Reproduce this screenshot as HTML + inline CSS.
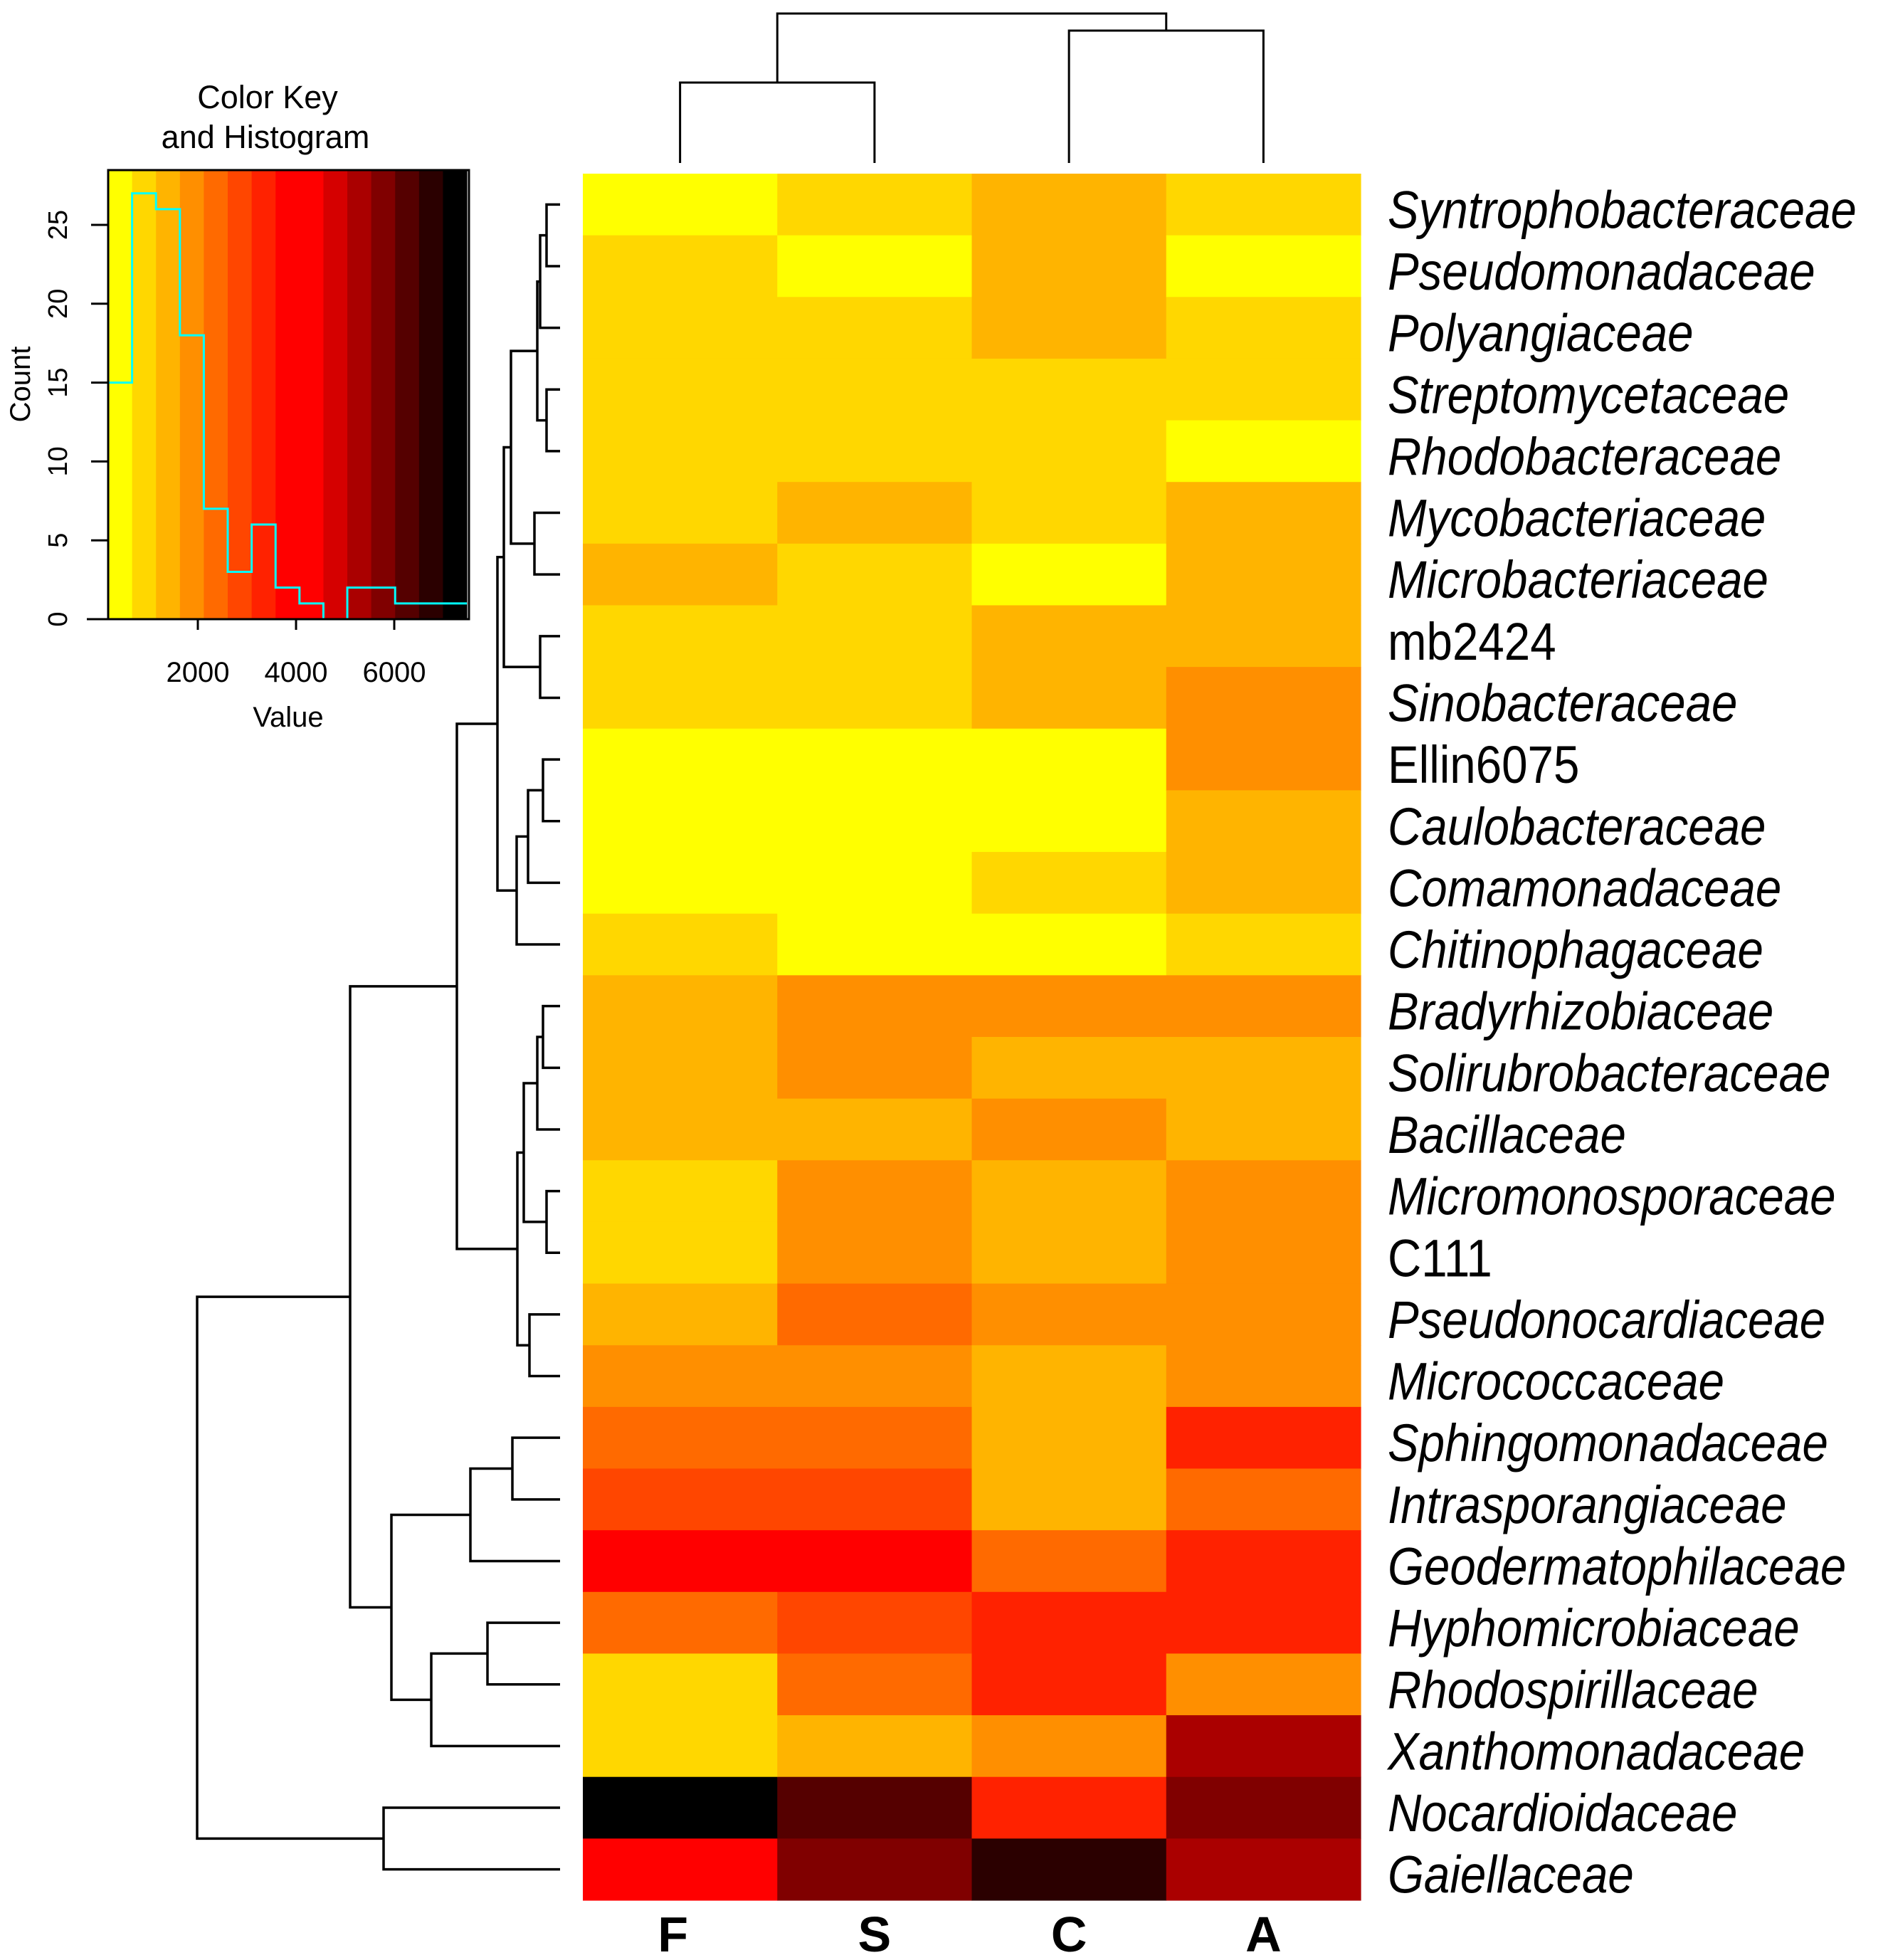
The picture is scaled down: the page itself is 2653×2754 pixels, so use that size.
<!DOCTYPE html>
<html><head><meta charset="utf-8"><style>
html,body{margin:0;padding:0;background:#fff;}
svg{display:block;}
text{font-family:"Liberation Sans",Arial,sans-serif;}
</style></head><body>
<svg id="chart" width="2653" height="2754" viewBox="0 0 2653 2754" xmlns="http://www.w3.org/2000/svg">
<g id="key"></g>
<g id="coldendro"></g>
<g id="rowdendro"></g>
<g id="cells"></g>
<g id="labels"></g>
</svg>
<script>
var rowNames=["Syntrophobacteraceae","Pseudomonadaceae","Polyangiaceae","Streptomycetaceae","Rhodobacteraceae","Mycobacteriaceae","Microbacteriaceae","mb2424","Sinobacteraceae","Ellin6075","Caulobacteraceae","Comamonadaceae","Chitinophagaceae","Bradyrhizobiaceae","Solirubrobacteraceae","Bacillaceae","Micromonosporaceae","C111","Pseudonocardiaceae","Micrococcaceae","Sphingomonadaceae","Intrasporangiaceae","Geodermatophilaceae","Hyphomicrobiaceae","Rhodospirillaceae","Xanthomonadaceae","Nocardioidaceae","Gaiellaceae"];
var colNames=["F","S","C","A"];
var valF=[418,905,905,905,905,905,1392,905,905,418,418,418,905,1392,1392,1392,905,905,1392,1879,2366,2853,3827,2366,905,905,7236,3827];
var valS=[905,418,905,905,905,1392,905,905,905,418,418,418,418,1879,1879,1392,1879,1879,2366,1879,2366,2853,3827,2853,2366,1392,6262,5775];
var valC=[1392,1392,1392,905,905,905,418,1392,1392,418,418,905,418,1879,1392,1879,1392,1392,1879,1392,1392,1392,2366,3340,3340,1879,3340,6749];
var valA=[905,418,905,905,418,1392,1392,1392,1879,1879,1392,1392,905,1879,1392,1392,1879,1879,1879,1879,3340,2366,3340,3340,1879,5288,5775,5288];
var binCounts=[15,27,26,18,7,3,6,2,1,0,2,2,1,1,1];
var keyColors=["#FFFF00","#FFD700","#FFB400","#FF8F00","#FF6A00","#FF4600","#FF2200","#FF0000","#FF0000","#D50000","#AA0000","#800000","#550000","#2B0000","#000000"];
var xTicks=[2000,4000,6000];
var yTicks=[0,5,10,15,20,25];
var rowMerge=[[-1,-2,768],[1,-3,759],[-4,-5,768],[2,3,755],[-6,-7,751],[4,5,718],[-8,-9,759],[6,7,708],[-10,-11,763],[9,-12,742],[10,-13,726],[8,11,699],[-14,-15,763],[13,-16,755],[-17,-18,768],[14,15,736],[-19,-20,744],[16,17,727],[12,18,642],[-21,-22,720],[20,-23,661],[-24,-25,685],[22,-26,606],[21,23,550],[19,24,492],[-27,-28,539],[25,26,277]];
var colMerge=[[-1,-2,116],[-3,-4,43],[1,2,19]];

var NS="http://www.w3.org/2000/svg";
function mk(tag,attrs,parent){var e=document.createElementNS(NS,tag);for(var k in attrs)e.setAttribute(k,attrs[k]);parent.appendChild(e);return e;}
var vMin=174,binW=487;
function colorOf(v){var i=Math.floor((v-vMin)/binW);i=Math.max(0,Math.min(keyColors.length-1,i));return keyColors[i];}

var hx0=819,hx1=1912,hy0=244,hy1=2670;
var cw=(hx1-hx0)/colNames.length,rh=(hy1-hy0)/rowNames.length;
var cols=[valF,valS,valC,valA];
var cellsG=document.getElementById('cells');
cols.forEach(function(vals,c){vals.forEach(function(v,r){
 var el=mk('rect',{x:hx0+c*cw,y:hy0+r*rh,width:cw+0.6,height:rh+0.6,fill:colorOf(v)},cellsG);
 
 
});});
var labG=document.getElementById('labels');
rowNames.forEach(function(n,r){
 var ital=!(n==="mb2424"||n==="Ellin6075"||n==="C111");
 var t=mk('text',{x:0,y:0,transform:'translate(1950,'+(hy0+(r+0.5)*rh+33)+') scale(0.885,1)','font-size':74,'font-style':ital?'italic':'normal',fill:'#000'},labG);
 t.textContent=n;
 
 
});
colNames.forEach(function(n,c){
 var t=mk('text',{x:hx0+(c+0.5)*cw-(c===0?10:0),y:2742,'font-size':70,'font-weight':'bold','text-anchor':'middle',fill:'#000'},labG);
 t.textContent=n;
 
 
});

var rdG=document.getElementById('rowdendro');
var rpos=[];
function rp(id){return id<0?[hy0+(-id-0.5)*rh,787]:rpos[id-1];}
rowMerge.forEach(function(m){
 var a=rp(m[0]),b=rp(m[1]),h=m[2];
 var p=mk('path',{d:'M'+a[1]+','+a[0]+'H'+h+'V'+b[0]+'H'+b[1],fill:'none',stroke:'#000','stroke-width':3.5},rdG);
 
 
 rpos.push([(a[0]+b[0])/2,h]);
});

var cdG=document.getElementById('coldendro');
var cpos=[];
function cp(id){return id<0?[hx0+(-id-0.5)*cw,229]:cpos[id-1];}
colMerge.forEach(function(m){
 var a=cp(m[0]),b=cp(m[1]),h=m[2];
 var p=mk('path',{d:'M'+a[0]+','+a[1]+'V'+h+'H'+b[0]+'V'+b[1],fill:'none',stroke:'#000','stroke-width':3},cdG);
 
 
 cpos.push([(a[0]+b[0])/2,h]);
});

var kG=document.getElementById('key');
var kx0=152,kx1=659,ky0=239,ky1=870;
function vx(v){return 140+(v/1000)*69;}
function cy(c){return ky1-c*22.16;}
keyColors.forEach(function(col,i){
 var x0=vx(vMin+i*binW),x1=Math.min(kx1,vx(vMin+(i+1)*binW));
 var r=mk('rect',{x:x0,y:ky0,width:x1-x0+0.5,height:ky1-ky0,fill:col},kG);
 
 
});
var d='';
binCounts.forEach(function(c,i){var x0=vx(vMin+i*binW),x1=Math.min(kx1,vx(vMin+(i+1)*binW));d+=(i===0?('M'+x0+','+cy(c)):('V'+cy(c)))+'H'+x1;});
var hp=mk('path',{d:d,fill:'none',stroke:'#00FFFF','stroke-width':3},kG);


mk('rect',{x:kx0,y:ky0,width:kx1-kx0,height:ky1-ky0,fill:'none',stroke:'#000','stroke-width':3},kG);
mk('line',{x1:kx0-30,y1:ky1,x2:kx1,y2:ky1,stroke:'#000','stroke-width':3},kG);
yTicks.forEach(function(t){
 mk('line',{x1:kx0-24,y1:cy(t),x2:kx0,y2:cy(t),stroke:'#000','stroke-width':3},kG);
 var tx=mk('text',{x:0,y:0,'font-size':38,'text-anchor':'middle',transform:'translate(94,'+cy(t)+') rotate(-90)',fill:'#000'},kG);
 tx.textContent=t;
 
 
});
xTicks.forEach(function(t){
 mk('line',{x1:vx(t),y1:ky1,x2:vx(t),y2:ky1+15,stroke:'#000','stroke-width':3},kG);
 var tx=mk('text',{x:vx(t),y:958,'font-size':40,'text-anchor':'middle',fill:'#000'},kG);
 tx.textContent=t;
 
 
});
function txt(s,attrs,name){var a={fill:'#000','text-anchor':'middle'};for(var k in attrs)a[k]=attrs[k];var t=mk('text',a,kG);t.textContent=s;}
txt('Color Key',{x:376,y:152,'font-size':45},'key-title');
txt('and Histogram',{x:373,y:208,'font-size':45},'key-subtitle');
txt('Value',{x:405,y:1021,'font-size':40},'x-axis-title');
txt('Count',{x:0,y:0,'font-size':40,transform:'translate(42,540) rotate(-90)'},'y-axis-title');
</script>
</body></html>
